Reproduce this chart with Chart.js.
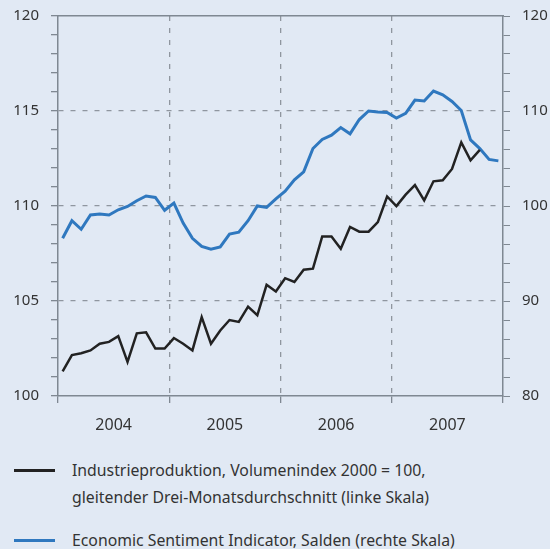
<!DOCTYPE html>
<html lang="de">
<head>
<meta charset="UTF-8">
<title>Industrieproduktion und ESI</title>
<script src="https://cdn.jsdelivr.net/npm/chart.js"></script>
<style>
    body {
        margin: 0;
        background: #e1e9f4;
        font-family: "Noto Sans", sans-serif;
        color: #333;
    }
    .wrap {
        position: relative;
        width: 550px;
        height: 549px;
    }
    .chart-box {
        position: absolute;
        left: 0;
        top: 0;
        width: 550px;
        height: 440px;
    }
    .legend-item {
        position: absolute;
        left: 0;
        font-size: 15.8px;
        line-height: 27px;
    }
    .legend-item .swatch {
        position: absolute;
        left: 14px;
        top: 12px;
        width: 41px;
        height: 3px;
    }
    .legend-item .text {
        margin-left: 72px;
        white-space: nowrap;
    }
</style>
</head>
<body>
<div class="wrap">
    <div class="chart-box"><canvas id="chart"></canvas></div>
    <div class="legend-item" style="top:457px">
        <span class="swatch" style="background:#222"></span>
        <div class="text">Industrieproduktion, Volumenindex 2000 = 100,<br>gleitender Drei-Monatsdurchschnitt (linke Skala)</div>
    </div>
    <div class="legend-item" style="top:527px">
        <span class="swatch" style="background:#2f78bf"></span>
        <div class="text">Economic Sentiment Indicator, Salden (rechte Skala)</div>
    </div>
</div>

<script>
// Monatswerte ab Januar 2004
const years = ['2004', '2005', '2006', '2007'];

// Industrieproduktion (linke Skala), Jan 2004 - Okt 2007
const industrie = [
    101.3, 102.15, 102.25, 102.4, 102.75, 102.85, 103.15, 101.8, 103.3, 103.35, 102.5, 102.5,
    103.05, 102.75, 102.4, 104.15, 102.75, 103.45, 104.0, 103.9, 104.7, 104.25, 105.85, 105.5,
    106.2, 106.0, 106.65, 106.7, 108.4, 108.4, 107.75, 108.9, 108.65, 108.65, 109.15, 110.5,
    110.0, 110.6, 111.1, 110.3, 111.3, 111.35, 111.95, 113.35, 112.4, 112.95
];

// Economic Sentiment Indicator (rechte Skala), Jan 2004 - Dez 2007
const esi = [
    96.6, 98.45, 97.55, 99.05, 99.15, 99.05, 99.6, 99.95, 100.55, 101.05, 100.9, 99.55,
    100.3, 98.2, 96.6, 95.75, 95.45, 95.7, 97.05, 97.25, 98.45, 100.0, 99.85, 100.75,
    101.55, 102.75, 103.6, 106.05, 107.0, 107.45, 108.25, 107.6, 109.1, 110.0, 109.9, 109.85,
    109.25, 109.75, 111.15, 111.05, 112.1, 111.7, 111.0, 110.05, 106.95, 106.05, 104.9, 104.75
];

const leftTicks = [100, 105, 110, 115, 120];
const rightTicks = [80, 90, 100, 110, 120];

const axisColor = '#7f8892';
const gridColor = '#8f969f';

// Punkte in der Monatsmitte
const toPoints = arr => arr.map((v, i) => ({ x: i + 0.5, y: v }));

const font = { family: 'Noto Sans', size: 15 };

// y-Achsen: feste Breite, keine Extra-Polsterung oben/unten
const fitY = w => s => {
    s.width = w;
    s.paddingTop = 0;
    s.paddingBottom = 0;
};

new Chart(document.getElementById('chart'), {
    type: 'line',
    data: {
        datasets: [{
            label: 'Industrieproduktion',
            data: toPoints(industrie),
            borderColor: '#222222',
            borderWidth: 2.5,
            pointRadius: 0,
            tension: 0,
            yAxisID: 'y'
        }, {
            label: 'ESI',
            data: toPoints(esi),
            borderColor: '#2f78bf',
            borderWidth: 3,
            pointRadius: 0,
            tension: 0,
            yAxisID: 'y2'
        }]
    },
    options: {
        responsive: true,
        maintainAspectRatio: false,
        animation: false,
        layout: { padding: { top: 16 } },
        plugins: {
            legend: { display: false },
            tooltip: { enabled: false }
        },
        scales: {
            x: {
                type: 'linear',
                min: 0,
                max: 48,
                afterFit: s => { s.height = 44; },
                ticks: {
                    stepSize: 6,
                    autoSkip: false,
                    maxRotation: 0,
                    padding: 13,
                    color: '#333',
                    font: { family: 'Noto Sans', size: 16 },
                    callback: v => (v % 12 === 6 ? years[(v - 6) / 12] : '')
                },
                grid: {
                    color: c => (c.tick && c.tick.value % 12 === 0 && c.tick.value > 0 && c.tick.value < 48) ? gridColor : 'rgba(0,0,0,0)',
                    tickColor: c => (c.tick && c.tick.value % 12 === 0) ? axisColor : 'rgba(0,0,0,0)',
                    tickLength: 7,
                    lineWidth: 1.3
                },
                border: { color: axisColor, width: 1.5, dash: [5, 7] }
            },
            x2: {
                type: 'linear',
                position: 'top',
                min: 0,
                max: 48,
                afterFit: s => { s.height = 0; },
                ticks: { display: false },
                grid: { display: false },
                border: { color: axisColor, width: 1.5 }
            },
            y: {
                position: 'left',
                min: 100,
                max: 120,
                afterFit: fitY(58),
                ticks: {
                    stepSize: 1,
                    autoSkip: false,
                    padding: 12,
                    color: '#333',
                    font: font,
                    callback: v => (leftTicks.includes(v) ? v : '')
                },
                grid: {
                    color: c => (c.tick && c.tick.value % 5 === 0 && c.tick.value > 100 && c.tick.value < 120) ? gridColor : 'rgba(0,0,0,0)',
                    tickColor: axisColor,
                    tickLength: 7,
                    lineWidth: 1.3
                },
                border: { color: axisColor, width: 1.5, dash: [5, 7] }
            },
            y2: {
                position: 'right',
                min: 80,
                max: 120,
                afterFit: fitY(47),
                ticks: {
                    stepSize: 2,
                    autoSkip: false,
                    padding: 12,
                    color: '#333',
                    font: font,
                    callback: v => (rightTicks.includes(v) ? v : '')
                },
                grid: {
                    drawOnChartArea: false,
                    tickColor: axisColor,
                    tickLength: 7
                },
                border: { color: axisColor, width: 1.5 }
            }
        }
    }
});
</script>
</body>
</html>
